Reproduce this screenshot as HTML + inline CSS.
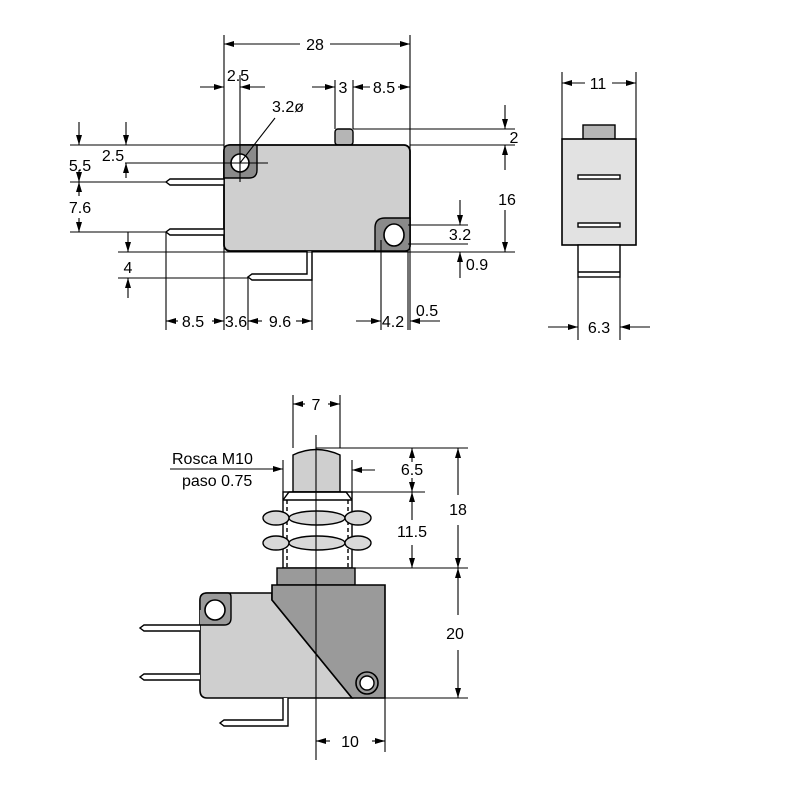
<!DOCTYPE html>
<html><head><meta charset="utf-8"><style>
html,body{margin:0;padding:0;background:#fff}
svg{display:block}
text{font-family:"Liberation Sans",sans-serif;font-size:16px;fill:#000}
</style></head><body>
<svg width="800" height="800" viewBox="0 0 800 800" xmlns="http://www.w3.org/2000/svg">
<defs>
<marker id="a" markerWidth="10" markerHeight="6" refX="10" refY="3" orient="auto-start-reverse" markerUnits="userSpaceOnUse"><path d="M0,0 L10,3 L0,6z" fill="#000"/></marker>
</defs>
<g stroke="#000" stroke-width="1.4" fill="none">
<!-- ===== TOP VIEW ===== -->
<rect x="335" y="129" width="18" height="16" rx="3" fill="#b5b5b5"/>
<rect x="224" y="145" width="186" height="106" rx="6" fill="#cfcfcf" stroke-width="1.8"/>
<path d="M224,150 Q224,145 230,145 L257,145 L257,170 Q257,178 249,178 L224,178z" fill="#8a8a8a"/>
<circle cx="240" cy="163" r="9" fill="#fff" stroke-width="1.6"/>
<path d="M408,218 L385,218 Q375,218 375,228 L375,251 L405,251 Q410,251 410,246 L410,218z" fill="#8a8a8a"/>
<ellipse cx="394" cy="235" rx="10" ry="11" fill="#fff" stroke-width="1.6"/>
<!-- pins -->
<path d="M224,179 L170,179 L166,182 L170,185 L224,185" fill="#fff"/>
<path d="M224,229 L170,229 L166,232 L170,235 L224,235" fill="#fff"/>
<path d="M307,251 L307,274 L252,274 L248,277 L252,280 L312,280 L312,251" fill="#fff"/>
<!-- extension lines -->
<g stroke-width="1.1">
<line x1="224" y1="35" x2="224" y2="330"/><line x1="410" y1="35" x2="410" y2="330"/>
<line x1="240" y1="75" x2="240" y2="182"/>
<line x1="335" y1="80" x2="335" y2="129"/><line x1="353" y1="80" x2="353" y2="129"/>
<line x1="70" y1="145" x2="224" y2="145"/><line x1="70" y1="182" x2="166" y2="182"/><line x1="70" y1="232" x2="166" y2="232"/>
<line x1="125" y1="163" x2="268" y2="163"/>
<line x1="118" y1="252" x2="515" y2="252"/><line x1="118" y1="278" x2="248" y2="278"/>
<line x1="166" y1="232" x2="166" y2="330"/><line x1="248" y1="278" x2="248" y2="330"/><line x1="312" y1="252" x2="312" y2="330"/>
<line x1="381" y1="240" x2="381" y2="330"/><line x1="408" y1="250" x2="408" y2="330"/>
<line x1="353" y1="129" x2="515" y2="129"/><line x1="410" y1="145" x2="515" y2="145"/>
<line x1="408" y1="225" x2="468" y2="225"/><line x1="408" y1="244" x2="468" y2="244"/>
<line x1="240" y1="163" x2="275" y2="118"/>
</g>
<!-- dims -->
<g stroke-width="1.1">
<line x1="224" y1="44" x2="300" y2="44" marker-start="url(#a)"/><line x1="330" y1="44" x2="410" y2="44" marker-end="url(#a)"/>
<line x1="200" y1="87" x2="224" y2="87" marker-end="url(#a)"/><line x1="265" y1="87" x2="240" y2="87" marker-end="url(#a)"/>
<line x1="312" y1="87" x2="335" y2="87" marker-end="url(#a)"/>
<line x1="370" y1="87" x2="353" y2="87" marker-end="url(#a)"/><line x1="398" y1="87" x2="410" y2="87" marker-end="url(#a)"/>
<line x1="79" y1="122" x2="79" y2="145" marker-end="url(#a)"/><line x1="79" y1="170" x2="79" y2="182" marker-end="url(#a)"/>
<line x1="79" y1="218" x2="79" y2="232" marker-end="url(#a)"/><line x1="79" y1="196" x2="79" y2="182" marker-end="url(#a)"/>
<line x1="126" y1="122" x2="126" y2="145" marker-end="url(#a)"/><line x1="126" y1="178" x2="126" y2="163" marker-end="url(#a)"/>
<line x1="128" y1="232" x2="128" y2="252" marker-end="url(#a)"/><line x1="128" y1="298" x2="128" y2="278" marker-end="url(#a)"/>
<line x1="178" y1="321" x2="166" y2="321" marker-end="url(#a)"/><line x1="212" y1="321" x2="224" y2="321" marker-end="url(#a)"/>
<line x1="262" y1="321" x2="248" y2="321" marker-end="url(#a)"/><line x1="296" y1="321" x2="312" y2="321" marker-end="url(#a)"/>
<line x1="356" y1="321" x2="381" y2="321" marker-end="url(#a)"/><line x1="440" y1="321" x2="410" y2="321" marker-end="url(#a)"/>
<line x1="505" y1="105" x2="505" y2="129" marker-end="url(#a)"/><line x1="505" y1="170" x2="505" y2="145" marker-end="url(#a)"/>
<line x1="505" y1="210" x2="505" y2="252" marker-end="url(#a)"/>
<line x1="460" y1="200" x2="460" y2="225" marker-end="url(#a)"/><line x1="460" y1="278" x2="460" y2="252" marker-end="url(#a)"/>
</g>
<!-- ===== SIDE VIEW ===== -->
<rect x="583" y="125" width="32" height="14" fill="#b5b5b5"/>
<rect x="562" y="139" width="74" height="106" fill="#e2e2e2" stroke-width="1.6"/>
<rect x="578" y="175" width="42" height="4" fill="#fff"/>
<rect x="578" y="223" width="42" height="4" fill="#fff"/>
<rect x="578" y="245" width="42" height="32" fill="#fff"/>
<line x1="578" y1="272" x2="620" y2="272"/>
<g stroke-width="1.1">
<line x1="562" y1="72" x2="562" y2="139"/><line x1="636" y1="72" x2="636" y2="139"/>
<line x1="578" y1="277" x2="578" y2="340"/><line x1="620" y1="277" x2="620" y2="340"/>
<line x1="585" y1="83" x2="562" y2="83" marker-end="url(#a)"/><line x1="612" y1="83" x2="636" y2="83" marker-end="url(#a)"/>
<line x1="548" y1="327" x2="578" y2="327" marker-end="url(#a)"/><line x1="650" y1="327" x2="620" y2="327" marker-end="url(#a)"/>
</g>
<!-- ===== BOTTOM VIEW ===== -->
<path d="M293,492 L293,455 Q316,444 340,455 L340,492z" fill="#cfcfcf"/>
<rect x="283" y="492" width="69" height="76" fill="#fff"/>
<line x1="287" y1="500" x2="287" y2="568" stroke-dasharray="4,3"/><line x1="348" y1="500" x2="348" y2="568" stroke-dasharray="4,3"/>
<path d="M283,500 L289,492 L346,492 L352,500" />
<line x1="283" y1="500" x2="352" y2="500"/>
<g fill="#d8d8d8">
<ellipse cx="276" cy="518" rx="13" ry="7"/><ellipse cx="317" cy="518" rx="28" ry="7"/><ellipse cx="358" cy="518" rx="13" ry="7"/>
<ellipse cx="276" cy="543" rx="13" ry="7"/><ellipse cx="317" cy="543" rx="28" ry="7"/><ellipse cx="358" cy="543" rx="13" ry="7"/>
</g>
<rect x="277" y="568" width="78" height="17" fill="#9a9a9a"/>
<path d="M207,593 L272,593 L272,600 L352,698 L207,698 Q200,698 200,690 L200,600 Q200,593 207,593z" fill="#cfcfcf" stroke-width="1.6"/>
<path d="M272,585 L385,585 L385,698 L352,698 L272,600z" fill="#9a9a9a" stroke-width="1.6"/>
<path d="M200,610 L200,600 Q200,593 207,593 L228,593 Q231,593 231,597 L231,618 Q231,625 224,625 L200,625" fill="#9a9a9a"/>
<circle cx="215" cy="610" r="10" fill="#fff" stroke-width="1.6"/>
<circle cx="367" cy="683" r="11" fill="#9a9a9a" stroke-width="1.6"/><circle cx="367" cy="683" r="7" fill="#fff"/>
<path d="M200,625 L144,625 L140,628 L144,631 L200,631" fill="#fff"/>
<path d="M200,674 L144,674 L140,677 L144,680 L200,680" fill="#fff"/>
<path d="M283,698 L283,720 L224,720 L220,723 L224,726 L288,726 L288,698" fill="#fff"/>
<g stroke-width="1.1">
<line x1="316" y1="435" x2="316" y2="760"/>
<line x1="293" y1="395" x2="293" y2="448"/><line x1="340" y1="395" x2="340" y2="448"/>
<line x1="305" y1="404" x2="293" y2="404" marker-end="url(#a)"/><line x1="328" y1="404" x2="340" y2="404" marker-end="url(#a)"/>
<line x1="316" y1="448" x2="468" y2="448"/><line x1="352" y1="492" x2="425" y2="492"/>
<line x1="355" y1="568" x2="468" y2="568"/><line x1="385" y1="698" x2="468" y2="698"/>
<line x1="412" y1="462" x2="412" y2="448" marker-end="url(#a)"/><line x1="412" y1="478" x2="412" y2="492" marker-end="url(#a)"/>
<line x1="412" y1="520" x2="412" y2="492" marker-end="url(#a)"/><line x1="412" y1="545" x2="412" y2="568" marker-end="url(#a)"/>
<line x1="458" y1="495" x2="458" y2="448" marker-end="url(#a)"/><line x1="458" y1="525" x2="458" y2="568" marker-end="url(#a)"/>
<line x1="458" y1="615" x2="458" y2="568" marker-end="url(#a)"/><line x1="458" y1="650" x2="458" y2="698" marker-end="url(#a)"/>
<line x1="283" y1="460" x2="283" y2="492"/><line x1="352" y1="460" x2="352" y2="492"/>
<line x1="170" y1="469" x2="283" y2="469" marker-end="url(#a)"/><line x1="375" y1="470" x2="352" y2="470" marker-end="url(#a)"/>
<line x1="385" y1="698" x2="385" y2="752"/>
<line x1="330" y1="741" x2="316" y2="741" marker-end="url(#a)"/><line x1="372" y1="741" x2="385" y2="741" marker-end="url(#a)"/>
</g>
</g>
<!-- text -->
<text x="315" y="50" text-anchor="middle">28</text>
<text x="238" y="81" text-anchor="middle">2.5</text>
<text x="343" y="93" text-anchor="middle">3</text>
<text x="384" y="93" text-anchor="middle">8.5</text>
<text x="272" y="112">3.2ø</text>
<text x="80" y="171" text-anchor="middle">5.5</text>
<text x="113" y="161" text-anchor="middle">2.5</text>
<text x="80" y="213" text-anchor="middle">7.6</text>
<text x="128" y="273" text-anchor="middle">4</text>
<text x="193" y="327" text-anchor="middle">8.5</text>
<text x="236" y="327" text-anchor="middle">3.6</text>
<text x="280" y="327" text-anchor="middle">9.6</text>
<text x="393" y="327" text-anchor="middle">4.2</text>
<text x="427" y="316" text-anchor="middle">0.5</text>
<text x="514" y="143" text-anchor="middle">2</text>
<text x="507" y="205" text-anchor="middle">16</text>
<text x="460" y="240" text-anchor="middle">3.2</text>
<text x="477" y="270" text-anchor="middle">0.9</text>
<text x="598" y="89" text-anchor="middle">11</text>
<text x="599" y="333" text-anchor="middle">6.3</text>
<text x="316" y="410" text-anchor="middle">7</text>
<text x="172" y="464">Rosca M10</text>
<text x="182" y="486">paso 0.75</text>
<text x="412" y="475" text-anchor="middle">6.5</text>
<text x="412" y="537" text-anchor="middle">11.5</text>
<text x="458" y="515" text-anchor="middle">18</text>
<text x="455" y="639" text-anchor="middle">20</text>
<text x="350" y="747" text-anchor="middle">10</text>
</svg>
</body></html>
